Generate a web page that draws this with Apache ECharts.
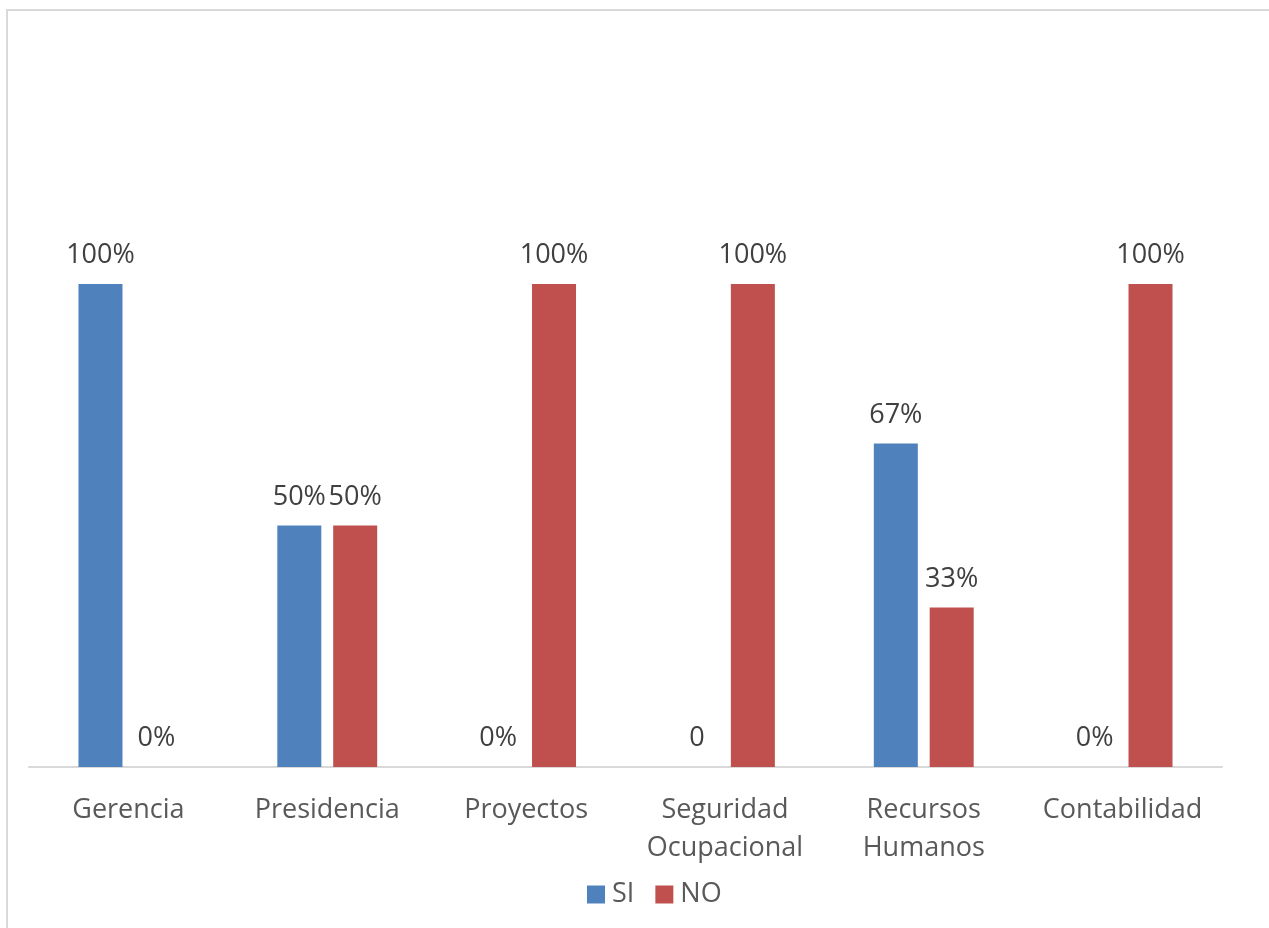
<!DOCTYPE html>
<html>
<head>
<meta charset="utf-8">
<script src="https://cdn.jsdelivr.net/npm/echarts@6/dist/echarts.min.js"></script>
<style>
  html, body { margin: 0; padding: 0; background: #fff; }
  #chart { width: 1269px; height: 928px; }
</style>
</head>
<body>
<div id="chart"></div>
<script>
const categories = ['Gerencia', 'Presidencia', 'Proyectos', 'Seguridad\nOcupacional', 'Recursos\nHumanos', 'Contabilidad']
const siValues = [1, 0.5, 0, 0, 0.67, 0]
const noValues = [0, 0.5, 1, 1, 0.33, 1]
// labels as printed in the source (one "0" without percent sign)
const siLabels = ['100%', '50%', '0%', '0', '67%', '0%']
const noLabels = ['0%', '50%', '100%', '100%', '33%', '100%']

const font = 'Open Sans'
const textColor = '#595959'

const chart = echarts.init(document.getElementById('chart'))

const labelFor = (texts) => ({
  show: true,
  position: 'top',
  distance: 15,
  fontFamily: font,
  fontSize: 27,
  color: '#404040',
  formatter: (p) => texts[p.dataIndex]
})

chart.setOption({
  animation: false,
  graphic: [{
    type: 'rect',
    shape: { x: 7, y: 10, width: 1300, height: 1000 },
    style: { fill: 'none', stroke: '#d9d9d9', lineWidth: 2 }
  }],
  grid: { left: 29, right: 47, top: 284, bottom: 161 },
  legend: {
    top: 876,
    left: 582,
    itemWidth: 18,
    itemHeight: 18,
    itemGap: 21,
    icon: 'rect',
    textStyle: { fontFamily: font, fontSize: 27, color: textColor, padding: [0, 0, 0, 2] },
    data: ['SI', 'NO']
  },
  xAxis: {
    type: 'category',
    data: categories,
    axisLine: { lineStyle: { color: '#d9d9d9', width: 2 } },
    axisTick: { show: false },
    axisLabel: {
      fontFamily: font,
      fontSize: 27,
      color: textColor,
      margin: 24,
      lineHeight: 38,
      interval: 0
    }
  },
  yAxis: {
    type: 'value',
    min: 0,
    max: 1,
    show: false,
    splitLine: { show: false }
  },
  series: [
    {
      name: 'SI',
      type: 'bar',
      data: siValues,
      barWidth: 44,
      barGap: '27%',
      itemStyle: { color: '#4f81bd' },
      label: labelFor(siLabels)
    },
    {
      name: 'NO',
      type: 'bar',
      data: noValues,
      barWidth: 44,
      itemStyle: { color: '#c0504d' },
      label: labelFor(noLabels)
    }
  ]
})
</script>
</body>
</html>
